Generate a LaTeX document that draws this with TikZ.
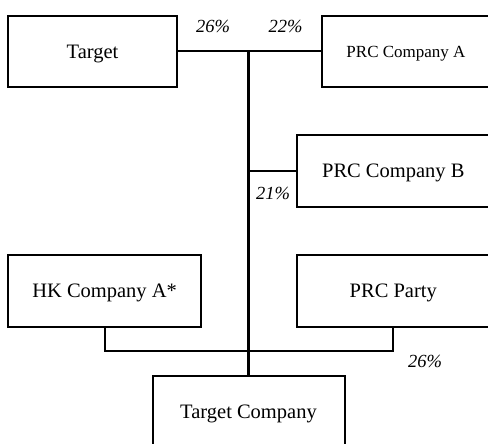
\documentclass[tikz,border=0pt]{standalone}
\usepackage{fontspec}
\setmainfont{Liberation Serif}
\begin{document}
\begin{tikzpicture}[x=1pt,y=-1pt,
  line width=2pt,
  entity/.style={draw, rectangle, inner sep=0pt, outer sep=0pt,
    minimum width=193pt, minimum height=72pt,
    font=\fontsize{20.5}{24}\selectfont, text height=13.5pt, text depth=0pt},
  share/.style={inner sep=0pt, font=\fontsize{18.5}{22}\selectfont\itshape,
    text height=12.2pt, text depth=0pt},
  trunk/.style={line width=2.8pt}]
\useasboundingbox (0,0) rectangle (488,444);
\clip (0,0) rectangle (488,444);

% shareholders
\node[entity, minimum width=169pt, minimum height=71pt] (t) at (92.5,51.5) {Target};
\node[entity, minimum width=168pt, minimum height=71pt,
      font=\fontsize{17}{20}\selectfont, text height=11.2pt] (pa) at (406,51.5) {PRC Company A};
\node[entity] (pb) at (393.3,171) {PRC Company B};
\node[entity] (hk) at (104.6,291) {HK Company A*};
\node[entity] (pp) at (393.3,291) {PRC Party};
% subsidiary
\node[entity, minimum width=192pt] (tc) at (248.5,411.7) {Target Company};

% ownership lines
\coordinate (top) at (248.5,51.5);
\coordinate (low) at (248.5,351);
\draw (t.east) -- (pa.west);
\draw (pb.west) -- (pb.west -| top);
\draw (hk.south) |- (low) -| (pp.south);
\draw[trunk] (top) -- (tc.north);

% percentages
\node[share] (s1) at (213,26.5) {26\%};
\node[share] (s2) at (285.5,26.5) {22\%};
\node[share] (s3) at (273,193.5) {21\%};
\node[share] (s4) at (425,361.5) {26\%};
\end{tikzpicture}
\end{document}
